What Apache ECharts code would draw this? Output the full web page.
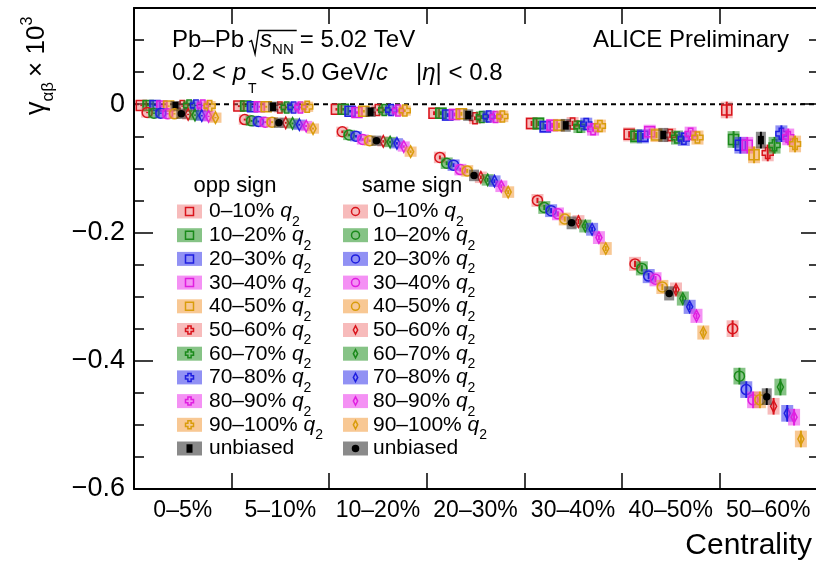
<!DOCTYPE html>
<html>
<head>
<meta charset="utf-8">
<title>γαβ vs centrality</title>
<script src="https://cdn.jsdelivr.net/npm/echarts@6/dist/echarts.min.js"></script>
<style>
  html, body { margin: 0; padding: 0; background: #fff; }
  #chart { width: 816px; height: 561px; }
</style>
</head>
<body>
<div id="chart"></div>
<script>
// ---- data -------------------------------------------------------------
const centralityLabels = ['0–5%', '5–10%', '10–20%', '20–30%', '30–40%', '40–50%', '50–60%'];
const q2Labels = ['0–10%', '10–20%', '20–30%', '30–40%', '40–50%',
                  '50–60%', '60–70%', '70–80%', '80–90%', '90–100%'];

// γαβ × 10^3, opposite-sign pairs: one row per q2 class, one column per centrality bin
const oppSignQ2 = [
  [-0.002, -0.003, -0.008, -0.014, -0.030, -0.047, -0.009],
  [-0.002, -0.003, -0.008, -0.014, -0.030, -0.050, -0.055],
  [-0.002, -0.004, -0.011, -0.017, -0.035, -0.050, -0.064],
  [-0.003, -0.004, -0.013, -0.016, -0.033, -0.043, -0.064],
  [-0.003, -0.004, -0.011, -0.015, -0.033, -0.048, -0.079],
  [-0.003, -0.005, -0.009, -0.022, -0.030, -0.048, -0.076],
  [-0.002, -0.005, -0.009, -0.020, -0.035, -0.052, -0.064],
  [-0.002, -0.005, -0.009, -0.019, -0.031, -0.054, -0.046],
  [-0.002, -0.005, -0.010, -0.020, -0.039, -0.046, -0.051],
  [-0.003, -0.004, -0.010, -0.019, -0.034, -0.052, -0.062]
];
const oppSignUnbiased = [-0.003, -0.004, -0.012, -0.017, -0.033, -0.048, -0.056];

// γαβ × 10^3, same-sign pairs
const sameSignQ2 = [
  [-0.013, -0.024, -0.043, -0.083, -0.150, -0.249, -0.350],
  [-0.014, -0.026, -0.048, -0.092, -0.161, -0.256, -0.424],
  [-0.014, -0.027, -0.050, -0.095, -0.166, -0.268, -0.445],
  [-0.015, -0.028, -0.055, -0.102, -0.171, -0.273, -0.461],
  [-0.015, -0.028, -0.057, -0.104, -0.179, -0.285, -0.461],
  [-0.016, -0.029, -0.058, -0.114, -0.183, -0.289, -0.471],
  [-0.017, -0.030, -0.059, -0.118, -0.190, -0.303, -0.441],
  [-0.018, -0.032, -0.061, -0.120, -0.195, -0.316, -0.482],
  [-0.019, -0.034, -0.066, -0.128, -0.208, -0.330, -0.488],
  [-0.021, -0.038, -0.074, -0.137, -0.225, -0.356, -0.522]
];
const sameSignUnbiased = [-0.015, -0.029, -0.057, -0.111, -0.185, -0.295, -0.456];

// statistical and systematic uncertainties per centrality bin
const statErr = [0.001, 0.0015, 0.002, 0.003, 0.004, 0.005, 0.013];
const sysErr  = [0.008, 0.008, 0.008, 0.009, 0.010, 0.011, 0.013];

// labelled y ticks
const yTickLabels = { '-0.6': '−0.6', '-0.4': '−0.4', '-0.2': '−0.2', '0': '0' };

// ---- styling ------------------------------------------------------------
const FONT = '"Liberation Sans", Arial, Helvetica, sans-serif';
const LINE_COLORS = ['#d9141c', '#1b8a1b', '#1f1fe0', '#e01fe0', '#d99c0c'];
const BOX_FILLS = ['rgba(238,105,105,0.45)', 'rgba(35,145,35,0.55)', 'rgba(55,55,235,0.55)',
                   'rgba(235,55,235,0.55)', 'rgba(242,155,60,0.55)'];
const UNBIASED_FILL = 'rgba(60,60,60,0.6)';

// horizontal slot of each class inside a centrality bin (fraction of the bin)
const SLOT_START = { opp: 0.075, same: 0.135 };
const SLOT_STEP = 0.07;
function slotOf(classIndex) { return classIndex < 5 ? classIndex : classIndex + 1; } // unbiased sits in slot 5

// ---- marker shapes ------------------------------------------------------------
function markerEl(kind, cx, cy, r, color) {
  const st = { stroke: color, fill: 'none', lineWidth: 1.5 };
  if (kind === 'square') {
    return { type: 'rect', shape: { x: cx - r, y: cy - r, width: 2 * r, height: 2 * r }, style: st };
  }
  if (kind === 'circle') {
    return { type: 'circle', shape: { cx: cx, cy: cy, r: r }, style: st };
  }
  if (kind === 'cross') {
    const a = r, b = r * 0.4;
    return { type: 'polygon', shape: { points: [
      [cx - b, cy - a], [cx + b, cy - a], [cx + b, cy - b], [cx + a, cy - b], [cx + a, cy + b], [cx + b, cy + b],
      [cx + b, cy + a], [cx - b, cy + a], [cx - b, cy + b], [cx - a, cy + b], [cx - a, cy - b], [cx - b, cy - b]
    ] }, style: st };
  }
  if (kind === 'diamond') {
    return { type: 'polygon', shape: { points: [
      [cx, cy - r * 1.15], [cx + r * 0.6, cy], [cx, cy + r * 1.15], [cx - r * 0.6, cy]
    ] }, style: st };
  }
  if (kind === 'fsquare') {
    return { type: 'rect', shape: { x: cx - r * 0.6, y: cy - r * 0.85, width: r * 1.2, height: r * 1.7 },
             style: { fill: '#000', stroke: null } };
  }
  // filled circle
  return { type: 'circle', shape: { cx: cx, cy: cy, r: r * 0.75 }, style: { fill: '#000', stroke: null } };
}

function pointRenderer(kind, color, boxFill) {
  return function (params, api) {
    const x = api.value(0), y = api.value(1), st = api.value(2), sy = api.value(3);
    const p = api.coord([x, y]);
    const bt = api.coord([x, y + sy])[1], bb = api.coord([x, y - sy])[1];
    const et = api.coord([x, y + st])[1], eb = api.coord([x, y - st])[1];
    const w = kind.startsWith('f') ? 10 : 12;
    return {
      type: 'group',
      children: [
        { type: 'rect', shape: { x: p[0] - w / 2, y: bt, width: w, height: bb - bt }, style: { fill: boxFill } },
        { type: 'line', shape: { x1: p[0], y1: et, x2: p[0], y2: eb }, style: { stroke: color, lineWidth: 2 } },
        markerEl(kind, p[0], p[1], kind === 'cross' ? 5.5 : 5, color)
      ]
    };
  };
}

function makeSeries(sign, name, values, classIndex, kind, color, boxFill) {
  const slot = classIndex < 0 ? 5 : slotOf(classIndex);
  const off = SLOT_START[sign] + SLOT_STEP * slot;
  return {
    type: 'custom',
    name: name,
    xAxisIndex: 0,
    yAxisIndex: 0,
    z: 3,
    encode: { x: 0, y: 1 },
    data: values.map((v, b) => [b + off, v, statErr[b], sysErr[b]]),
    renderItem: pointRenderer(kind, color, boxFill)
  };
}

const series = [{
  type: 'line', name: 'zero', xAxisIndex: 0, yAxisIndex: 0, silent: true, z: 1,
  symbol: 'none', data: [[0, 0], [7, 0]],
  lineStyle: { color: '#000', width: 2, type: [5, 4] }
}];
[['opp', oppSignQ2, oppSignUnbiased, ['square', 'cross'], 'fsquare'],
 ['same', sameSignQ2, sameSignUnbiased, ['circle', 'diamond'], 'fcircle']].forEach(cfg => {
  const [sign, rows, unbiased, shapes, ubShape] = cfg;
  rows.forEach((vals, i) => {
    series.push(makeSeries(sign, sign + ' ' + q2Labels[i], vals, i, shapes[i < 5 ? 0 : 1],
                           LINE_COLORS[i % 5], BOX_FILLS[i % 5]));
  });
  series.push(makeSeries(sign, sign + ' unbiased', unbiased, -1, ubShape, '#000', UNBIASED_FILL));
});

// ---- text helpers ------------------------------------------------------------
const measureCtx = document.createElement('canvas').getContext('2d');
function fontOf(size, italic) { return (italic ? 'italic ' : '') + size + 'px ' + FONT; }
function textWidth(t, size, italic) { measureCtx.font = fontOf(size, italic); return measureCtx.measureText(t).width; }
function textEl(t, x, baseline, size, italic, align) {
  return {
    type: 'text', x: x, y: baseline - 0.35 * size, silent: true,
    style: { text: t, font: fontOf(size, italic), fill: '#000',
             align: align || 'left', textAlign: align || 'left',
             verticalAlign: 'middle', textVerticalAlign: 'middle' }
  };
}
// lays pieces out left to right on a baseline at local y = 0
function textRun(pieces) {
  const els = [];
  let x = 0;
  pieces.forEach(p => {
    if (p.gap) { x += p.gap; return; }
    if (p.path) { els.push(p.path(x)); x += p.width; return; }
    els.push(textEl(p.t, x, p.dy || 0, p.size, p.italic));
    x += textWidth(p.t, p.size, p.italic);
  });
  return { els: els, width: x };
}
function runGroup(x, y, pieces, rotation) {
  return { type: 'group', x: x, y: y, rotation: rotation || 0, children: textRun(pieces).els };
}

const graphics = [];
const HS = 24; // header font size

// energy line with a drawn radical over s_NN
const radW = textWidth('s', HS, true) + textWidth('NN', 15) + 3;
graphics.push(runGroup(172, 49, [
  { t: 'Pb–Pb', size: HS }, { gap: 5 },
  { path: x => ({ type: 'polyline', silent: true,
      shape: { points: [[x, -7], [x + 2.5, -8.5], [x + 6, 5], [x + 9.5, -18.5], [x + 11 + radW, -18.5]] },
      style: { stroke: '#000', lineWidth: 1.4, fill: null } }), width: 11 },
  { t: 's', size: HS, italic: true }, { t: 'NN', size: 15, dy: 6 }, { gap: 6 },
  { t: '= 5.02 TeV', size: HS }
]));
graphics.push(runGroup(172, 82, [
  { t: '0.2 < ', size: HS }, { t: 'p', size: HS, italic: true }, { gap: 2 },
  { t: 'T', size: 14, dy: 12 }, { gap: 4 },
  { t: '< 5.0 GeV/', size: HS }, { t: 'c', size: HS, italic: true }
]));
graphics.push(runGroup(416, 82, [
  { t: '|', size: HS }, { t: 'η', size: HS, italic: true }, { t: '| < 0.8', size: HS }
]));
graphics.push(textEl('ALICE Preliminary', 789, 49, HS, false, 'right'));

// y-axis title, reading bottom to top
graphics.push(runGroup(46, 115, [
  { t: 'γ', size: 27 }, { t: 'αβ', size: 17, dy: 8 }, { gap: 5 },
  { t: '× 10', size: 26 }, { t: '3', size: 16, dy: -13 }
], Math.PI / 2));

// x-axis title
graphics.push(textEl('Centrality', 812, 556, 30, false, 'right'));

// legend: two columns (opposite sign / same sign)
const legendCols = [
  { header: 'opp sign', headerX: 235, boxX: 177, textX: 209, shapes: ['square', 'cross'], ub: 'fsquare' },
  { header: 'same sign', headerX: 412, boxX: 343, textX: 373, shapes: ['circle', 'diamond'], ub: 'fcircle' }
];
const rowY = k => 211.5 + 23.7 * k;
legendCols.forEach(col => {
  graphics.push(textEl(col.header, col.headerX, 194, 22, false, 'center'));
  for (let k = 0; k <= q2Labels.length; k++) {
    const y = rowY(k);
    const isUb = k === q2Labels.length;
    graphics.push({ type: 'rect', silent: true, shape: { x: col.boxX, y: y - 7, width: 25, height: 14 },
                    style: { fill: isUb ? UNBIASED_FILL : BOX_FILLS[k % 5] } });
    const kind = isUb ? col.ub : col.shapes[k < 5 ? 0 : 1];
    const m = markerEl(kind, col.boxX + 12.5, y, kind === 'diamond' ? 3.6 : (isUb ? 5 : 4), isUb ? '#000' : LINE_COLORS[k % 5]);
    m.silent = true;
    graphics.push(m);
    const pieces = isUb ? [{ t: 'unbiased', size: 21 }]
      : [{ t: q2Labels[k] + ' ', size: 21 }, { t: 'q', size: 21, italic: true }, { t: '2', size: 14, dy: 8 }];
    graphics.push(runGroup(col.textX, y + 7.5, pieces));
  }
});

// ---- chart ------------------------------------------------------------
const valueYAxis = (position, interval, tickLen, showLine) => ({
  type: 'value', gridIndex: 0, position: position, min: -0.6, max: 0.15, interval: interval,
  axisLine: { show: showLine, onZero: false, lineStyle: { color: '#000', width: 2 } },
  axisTick: { show: true, inside: true, length: tickLen, lineStyle: { color: '#000', width: 1.5 } },
  axisLabel: { show: false },
  splitLine: { show: false }
});
const leftMajor = valueYAxis('left', 0.2, 19, true);
leftMajor.axisLabel = {
  show: true, margin: 9, fontSize: 27, fontFamily: FONT, color: '#000',
  formatter: v => {
    const key = String(Math.round(v * 10) / 10);
    return Math.abs(v * 5 - Math.round(v * 5)) < 1e-6 && yTickLabels[key] !== undefined ? yTickLabels[key] : '';
  }
};

const option = {
  animation: false,
  backgroundColor: '#fff',
  grid: { left: 134, right: -1, top: 8, bottom: 72, containLabel: false, outerBoundsMode: 'none' },
  xAxis: [
    { type: 'value', gridIndex: 0, position: 'bottom', min: 0, max: 7, interval: 1,
      axisLine: { show: true, onZero: false, lineStyle: { color: '#000', width: 2 } },
      axisTick: { show: true, inside: true, length: 16, lineStyle: { color: '#000', width: 1.5 } },
      axisLabel: { show: false }, splitLine: { show: false } },
    { type: 'category', gridIndex: 0, position: 'bottom', data: centralityLabels, boundaryGap: true,
      axisLine: { show: false }, axisTick: { show: false }, splitLine: { show: false },
      axisLabel: { show: true, margin: 10, fontSize: 23, fontFamily: FONT, color: '#000', interval: 0 } },
    { type: 'value', gridIndex: 0, position: 'top', min: 0, max: 7, interval: 1,
      axisLine: { show: true, onZero: false, lineStyle: { color: '#000', width: 2 } },
      axisTick: { show: true, inside: true, length: 16, lineStyle: { color: '#000', width: 1.5 } },
      axisLabel: { show: false }, splitLine: { show: false } }
  ],
  yAxis: [
    leftMajor,
    valueYAxis('left', 0.05, 10, false),
    valueYAxis('right', 0.2, 16, true),
    valueYAxis('right', 0.05, 8, false)
  ],
  series: series,
  graphic: { elements: graphics }
};

const chart = echarts.init(document.getElementById('chart'), null, { renderer: 'canvas', devicePixelRatio: 1 });
chart.setOption(option);
</script>
</body>
</html>
